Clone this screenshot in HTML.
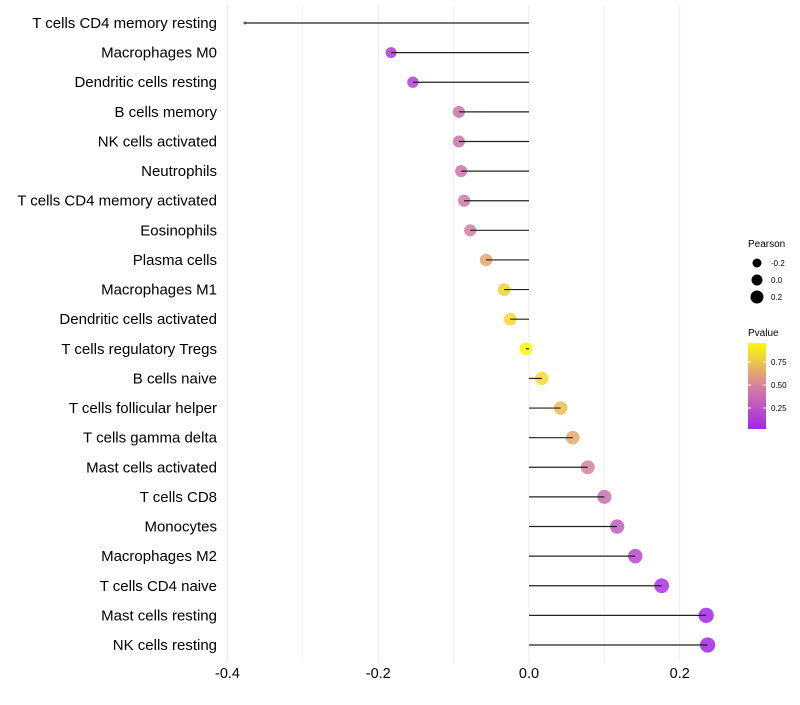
<!DOCTYPE html>
<html><head><meta charset="utf-8"><style>
body{margin:0;background:#fff;font-family:"Liberation Sans",sans-serif}
</style></head><body>
<svg id="chart" width="800" height="700" xmlns="http://www.w3.org/2000/svg" font-family="Liberation Sans, sans-serif"></svg>
<script>
const categories=["T cells CD4 memory resting","Macrophages M0","Dendritic cells resting","B cells memory","NK cells activated","Neutrophils","T cells CD4 memory activated","Eosinophils","Plasma cells","Macrophages M1","Dendritic cells activated","T cells regulatory  Tregs ","B cells naive","T cells follicular helper","T cells gamma delta","Mast cells activated","T cells CD8","Monocytes","Macrophages M2","T cells CD4 naive","Mast cells resting","NK cells resting"];
const pearson=[-0.377,-0.183,-0.154,-0.093,-0.093,-0.09,-0.086,-0.078,-0.057,-0.033,-0.025,-0.004,0.017,0.042,0.058,0.078,0.1,0.117,0.141,0.176,0.235,0.237];
const pvalues=[0.01,0.12,0.16,0.42,0.42,0.43,0.44,0.48,0.65,0.82,0.85,0.98,0.86,0.74,0.66,0.5,0.4,0.3,0.2,0.1,0.03,0.03];
const xTicks=[-0.4,-0.2,0.0,0.2];
const xTickLabels=["-0.4","-0.2","0.0","0.2"];
const NS="http://www.w3.org/2000/svg";
const svg=document.getElementById('chart');
function mk(t,a,p){const e=document.createElementNS(NS,t);for(const k in a)e.setAttribute(k,a[k]);(p||svg).appendChild(e);return e;}
const xs=v=>529+v*753.75;
const ys=i=>23+i*(622/21);
const pmin=Math.min(...pearson),pmax=Math.max(...pearson);
const rs=v=>{const t=(v-pmin)/(pmax-pmin);return t<0.1?1.5+t*30:Math.sqrt(17+42*t);};
function lerp(a,b,t){return a.map((x,i)=>Math.round(x+(b[i]-x)*t));}
function col(p){const c0=[160,32,240],c1=[214,128,160],c2=[255,255,0];const t=Math.max(0,Math.min(1,p));const c=t<0.5?lerp(c0,c1,t/0.5):lerp(c1,c2,(t-0.5)/0.5);return `rgb(${c.join(',')})`;}
[-0.4,-0.3,-0.2,-0.1,0,0.1,0.2].forEach(v=>{const g=mk('line',{x1:xs(v),x2:xs(v),y1:5,y2:662,stroke:'#ebebeb','stroke-width':Math.round(v*10)%2===0?1:0.6});

});
xTicks.forEach((v,i)=>{const t=mk('text',{x:xs(v),y:678,'text-anchor':'middle','font-size':14.5,fill:'#000'});t.textContent=xTickLabels[i];

});
categories.forEach((c,i)=>{
const y=ys(i);
const l=mk('text',{x:217,y:y+5,'text-anchor':'end','font-size':15,fill:'#000'});l.textContent=c;


const d=mk('circle',{cx:xs(pearson[i]),cy:y,r:rs(pearson[i]),fill:col(pvalues[i]),'fill-opacity':0.85});


const s=mk('line',{x1:xs(0),x2:xs(pearson[i]),y1:y,y2:y,stroke:'#222','stroke-width':1.2});


});
const lg=mk('g',{});


let t=mk('text',{x:748,y:247,'font-size':10},lg);t.textContent='Pearson';
[-0.2,0,0.2].forEach((v,i)=>{mk('circle',{cx:757,cy:263+i*17,r:[4.5,5.5,6.5][i],fill:'#000'},lg);const tt=mk('text',{x:771,y:266+i*17,'font-size':8},lg);tt.textContent=['-0.2','0.0','0.2'][i];});
t=mk('text',{x:748,y:336,'font-size':10},lg);t.textContent='Pvalue';
const defs=mk('defs',{});const gr=mk('linearGradient',{id:'pg',x1:0,y1:1,x2:0,y2:0},defs);
[0,0.25,0.5,0.75,1].forEach(o=>mk('stop',{offset:o,'stop-color':col(0.03+o*0.95)},gr));
mk('rect',{x:748,y:343,width:18,height:86,fill:'url(#pg)'},lg);
[[0.75,362],[0.5,385],[0.25,408]].forEach(([v,y])=>{mk('line',{x1:748,x2:751,y1:y,y2:y,stroke:'#fff'},lg);mk('line',{x1:763,x2:766,y1:y,y2:y,stroke:'#fff'},lg);const tt=mk('text',{x:771,y:y+3,'font-size':8},lg);tt.textContent=v.toFixed(2);});
</script>
</body></html>
